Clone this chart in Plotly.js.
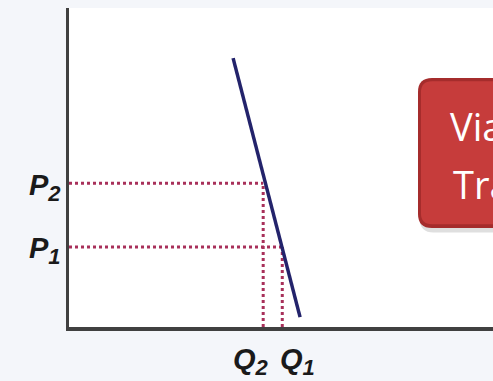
<!DOCTYPE html>
<html>
<head>
<meta charset="utf-8">
<script src="https://cdn.plot.ly/plotly-3.0.1.min.js"></script>
<style>
  html, body { margin: 0; padding: 0; background: #f4f6fa; }
  #chart { width: 493px; height: 381px; }
</style>
</head>
<body>
<div id="chart"></div>
<script>
// Demand curve end points (quantity, price) in arbitrary units 0-100
const demandQ = [38.7, 54.5];
const demandP = [84.3, 3.1];
// Price levels and matching quantities
const priceLevels = [25.1, 45.1];      // P1, P2
const quantityLevels = [50.3, 45.8];   // Q1, Q2
const priceLabels = ['P', 'P'];
const priceSubs = ['1', '2'];
const quantityLabels = ['Q', 'Q'];
const quantitySubs = ['1', '2'];
const boxLines = ['Via', 'Tra'];

const dotColor = '#a8305a';
const traces = [];
// guide lines (dotted)
for (let i = 0; i < priceLevels.length; i++) {
  traces.push({
    x: [0, quantityLevels[i]], y: [priceLevels[i], priceLevels[i]],
    mode: 'lines', line: {color: dotColor, width: 3, dash: 'dot'},
    hoverinfo: 'skip', showlegend: false
  });
  traces.push({
    x: [quantityLevels[i], quantityLevels[i]], y: [0, priceLevels[i]],
    mode: 'lines', line: {color: dotColor, width: 3, dash: 'dot'},
    hoverinfo: 'skip', showlegend: false
  });
}
// demand curve
traces.push({
  x: demandQ, y: demandP, mode: 'lines',
  line: {color: '#23236b', width: 3.5},
  hoverinfo: 'skip', showlegend: false
});

const labelFont = {family: 'Liberation Sans, Arial, sans-serif', size: 29, color: '#1a1a1a', weight: 'bold', style: 'italic'};
function lbl(main, sub) {
  return main + '<sub><span style="font-size:22px">' + sub + '</span></sub>';
}
const annotations = [];
for (let i = 0; i < priceLevels.length; i++) {
  annotations.push({
    xref: 'paper', yref: 'y', x: 0, y: priceLevels[i], xanchor: 'right', yanchor: 'middle',
    xshift: -6, yshift: -4, text: lbl(priceLabels[i], priceSubs[i]), showarrow: false, font: labelFont
  });
}
annotations.push({
  xref: 'x', yref: 'paper', x: quantityLevels[1], y: 0, xanchor: 'right', yanchor: 'top',
  xshift: 8, yshift: -14, text: lbl(quantityLabels[1], quantitySubs[1]), showarrow: false, font: labelFont
});
annotations.push({
  xref: 'x', yref: 'paper', x: quantityLevels[0], y: 0, xanchor: 'left', yanchor: 'top',
  xshift: -4, yshift: -14, text: lbl(quantityLabels[0], quantitySubs[0]), showarrow: false, font: labelFont
});
const boxFont = {family: 'Open Sans, Liberation Sans, sans-serif', size: 38, color: '#ffffff'};
annotations.push({xref: 'paper', yref: 'paper', x: (448 - 69) / 424, y: (327 - 126) / 319,
  xanchor: 'left', yanchor: 'middle', text: boxLines[0], showarrow: false, font: boxFont});
annotations.push({xref: 'paper', yref: 'paper', x: (451 - 69) / 424, y: (327 - 184) / 319,
  xanchor: 'left', yanchor: 'middle', text: boxLines[1], showarrow: false, font: boxFont});

// rounded red box (paper coordinates, corner radius ~14px)
function roundRect(x0, y0, x1, y1, r) {
  const rx = r / 424, ry = r / 319;
  return `M${x0 + rx},${y1} L${x1 - rx},${y1} Q${x1},${y1} ${x1},${y1 - ry} ` +
    `L${x1},${y0 + ry} Q${x1},${y0} ${x1 - rx},${y0} L${x0 + rx},${y0} Q${x0},${y0} ${x0},${y0 + ry} ` +
    `L${x0},${y1 - ry} Q${x0},${y1} ${x0 + rx},${y1} Z`;
}
const bx0 = (418 - 69) / 424, bx1 = (520 - 69) / 424;
const by1 = (327 - 78) / 319, by0 = (327 - 228) / 319;
const shapes = [
  {type: 'path', xref: 'paper', yref: 'paper', path: roundRect(bx0 + 0.004, by0 - 0.014, bx1, by1 - 0.01, 14),
   fillcolor: 'rgba(110,110,110,0.22)', line: {width: 0}},
  {type: 'path', xref: 'paper', yref: 'paper', path: roundRect(bx0, by0, bx1, by1, 14),
   fillcolor: '#a52c2c', line: {width: 0}},
  {type: 'path', xref: 'paper', yref: 'paper', path: roundRect(bx0 + 0.007, by0 + 0.012, bx1, by1 - 0.01, 11),
   fillcolor: '#c63c3b', line: {width: 0}}
];

const layout = {
  width: 493, height: 381,
  margin: {l: 69, r: 0, t: 8, b: 54},
  paper_bgcolor: '#f4f6fa', plot_bgcolor: '#ffffff',
  showlegend: false,
  xaxis: {range: [0, 100], showgrid: false, zeroline: false, showticklabels: false, ticks: '',
    showline: true, linewidth: 3.5, linecolor: '#404040', fixedrange: true},
  yaxis: {range: [0, 100], showgrid: false, zeroline: false, showticklabels: false, ticks: '',
    showline: true, linewidth: 3.5, linecolor: '#404040', fixedrange: true},
  annotations: annotations,
  shapes: shapes
};
Plotly.newPlot('chart', traces, layout, {displayModeBar: false, staticPlot: true});
</script>
</body>
</html>
